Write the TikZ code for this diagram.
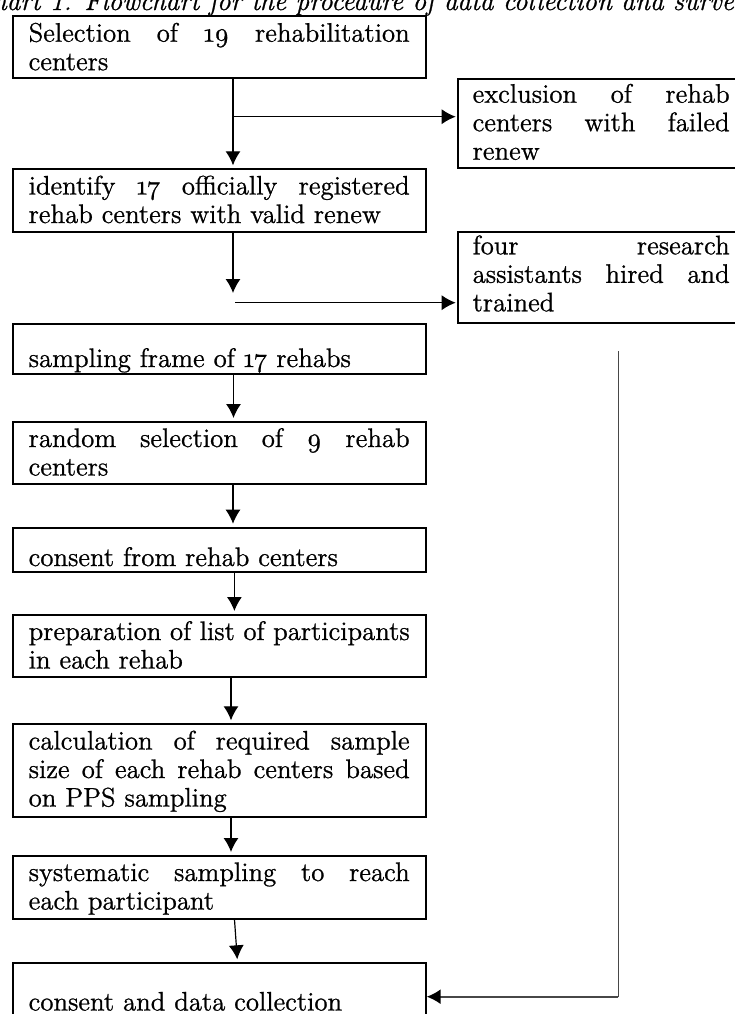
\documentclass[tikz,border=0pt]{standalone}
\usepackage{fontspec}
\setmainfont{Latin Modern Roman}[FakeBold=0.9]
\usetikzlibrary{arrows.meta}
\newcommand{\js}{\hspace{0.33em plus 1fill minus 0.14em}}
\begin{document}
\begin{tikzpicture}[x=0.5pt,y=-0.5pt,
  txt/.style={font=\fontsize{13.4pt}{14.25pt}\selectfont},
  lbox/.style={draw, line width=1pt, anchor=north west, inner ysep=0pt, inner xsep=8pt, text width=190.5pt, align=left, txt},
  rbox/.style={draw, line width=1pt, anchor=north west, inner ysep=0pt, inner xsep=7.5pt, text width=128.5pt, align=left, txt},
  arr/.style={line width=0.6pt, -{Latex[length=7pt,width=7.5pt]}, shorten >=1.5pt},
  feed/.style={line width=0.8pt, draw=black!72},
]
\path[use as bounding box, fill=white] (0,0) rectangle (735,1014);
\clip (0,0) rectangle (735,1014);

% title (cut by the page edge)
\node[font=\fontsize{13.6pt}{15pt}\selectfont\itshape, anchor=base west, inner sep=0pt] (title) at (84,10)
  {\llap{Chart 1. }Flowchart for the procedure of data collection and survey};

% left column
\node[lbox, text height=12.85pt, text depth=18.3pt] (s1) at (11.7,15)
  {Selection\js of\js \oldstylenums{19}\js rehabilitation\\ centers};
\node[lbox, text height=12.6pt, text depth=18.6pt] (s2) at (11.7,168.3)
  {identify\js \oldstylenums{17}\js officially\js registered\\ rehab centers with valid renew};
\node[lbox, text height=7.4pt, text depth=17.6pt] (s3) at (11.7,322.7)
  {\mbox{}\\ sampling frame of \oldstylenums{17} rehabs};
\node[lbox, text height=12.5pt, text depth=18.35pt] (s4) at (11.7,421)
  {random\js selection\js of\js \oldstylenums{9}\js rehab\\ centers};
\node[lbox, text height=4.9pt, text depth=17.1pt] (s5) at (11.7,526.7)
  {\mbox{}\\ consent from rehab centers};
\node[lbox, text height=12.5pt, text depth=18.5pt] (s6) at (11.7,614)
  {preparation\js of\js list\js of\js participants\\ in each rehab};
\node[lbox, text height=12.6pt, text depth=33.6pt] (s7) at (11.7,723.3)
  {calculation\js of\js required\js sample\\ size\js of\js each\js rehab\js centers\js based\\ on PPS sampling};
\node[lbox, text height=12.5pt, text depth=18.85pt] (s8) at (11.7,855)
  {systematic\js sampling\js to\js reach\\ each participant};
\node[lbox, text height=9.35pt, text depth=19.5pt] (s9) at (11.7,962.3)
  {\mbox{}\\ consent and data collection};

% right column
\node[rbox, text height=11.85pt, text depth=32.8pt] (ex) at (456.7,78)
  {exclusion\js of\js rehab\\ centers\js with\js failed\\ renew};
\node[rbox, text height=11.15pt, text depth=34.2pt] (four) at (456.7,231)
  {four\js research\\ assistants\js hired\js and\\ trained};

% connectors
\coordinate (v1) at (233,0);
\coordinate (v3) at (233.5,0);
\coordinate (v5) at (234.4,0);
\coordinate (v6) at (231,0);
\coordinate (v8a) at (234.5,0);
\coordinate (v8b) at (237.5,0);
\coordinate (h1) at (233,116.7);
\coordinate (v2end) at (233,293);
\coordinate (h2) at (235,302.7);
\coordinate (g1) at (618.3,351);
\coordinate (g2) at (618.3,996.7);

\draw[arr] (s1.south -| v1) -- (s2.north -| v1);
\draw[arr, shorten >=0.5pt] (h1) -- (h1 -| ex.west);
\draw[arr, shorten >=0pt] (s2.south -| v1) -- (v2end);
\draw[arr, shorten >=0.5pt] (h2) -- (h2 -| four.west);
\draw[arr] (s3.south -| v3) -- (s4.north -| v3);
\draw[arr] (s4.south -| v1) -- (s5.north -| v1);
\draw[arr] (s5.south -| v5) -- (s6.north -| v5);
\draw[arr] (s6.south -| v6) -- (s7.north -| v6);
\draw[arr] (s7.south -| v6) -- (s8.north -| v6);
\draw[arr] (s8.south -| v8a) -- (s9.north -| v8b);

\draw[feed] (g1) -- (g2);
\draw[feed, -{Latex[length=7pt,width=7.5pt,color=black]}] (g2) -- (g2 -| s9.east);
\end{tikzpicture}
\end{document}
